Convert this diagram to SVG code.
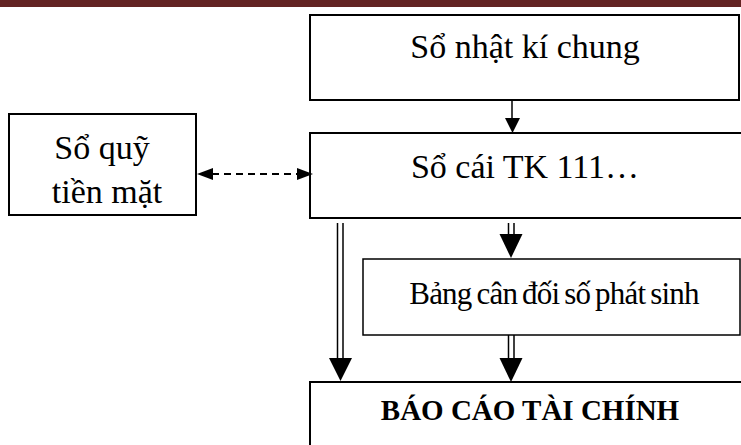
<svg xmlns="http://www.w3.org/2000/svg" width="741" height="445" viewBox="0 0 741 445">
  <style>
    .box { fill: #fff; stroke: #000; stroke-width: 2; }
    .thin { stroke-width: 1.5; }
    .lbl { font-family: "Liberation Serif", "Times New Roman", serif; font-size: 34px; fill: #000; text-anchor: middle; }
    .tight { font-size: 31px; letter-spacing: -0.8px; word-spacing: -2px; }
    .bold { font-weight: bold; font-size: 29px; }
    .line { stroke: #000; stroke-width: 1.5; fill: none; }
    .dash { stroke: #000; stroke-width: 2; stroke-dasharray: 7 5; fill: none; }
    .head { fill: #000; }
  </style>

  <!-- page header rule -->
  <rect x="0" y="0" width="741" height="7" fill="#632423"/>

  <g id="so-nhat-ki-chung">
    <rect class="box" x="310" y="15" width="429" height="85"/>
    <text class="lbl" x="525" y="58">Sổ nhật kí chung</text>
  </g>

  <g id="so-cai">
    <rect class="box" x="310" y="133" width="440" height="85"/>
    <text class="lbl" x="525" y="178">Sổ cái TK 111…</text>
  </g>

  <g id="so-quy">
    <rect class="box" x="9" y="114" width="187" height="101"/>
    <text class="lbl" x="102" y="159">Sổ quỹ</text>
    <text class="lbl" x="107" y="203">tiền mặt</text>
  </g>

  <g id="bang-can-doi">
    <rect class="box thin" x="363" y="259" width="377" height="76"/>
    <text class="lbl tight" x="554" y="304">Bảng cân đối số phát sinh</text>
  </g>

  <g id="bao-cao-tai-chinh">
    <rect class="box" x="310" y="382" width="450" height="80"/>
    <text class="lbl bold" x="530" y="420">BÁO CÁO TÀI CHÍNH</text>
  </g>

  <g id="connectors">
    <!-- journal to ledger -->
    <line class="line" x1="512" y1="100" x2="512" y2="119"/>
    <polygon class="head" points="505,118 520,118 512.5,133"/>

    <!-- cash book <-> ledger -->
    <line class="dash" x1="212" y1="174" x2="298" y2="174"/>
    <polygon class="head" points="197,174 213,168 213,180"/>
    <polygon class="head" points="313,174 297,168 297,180"/>

    <!-- ledger to financial statements -->
    <line class="line" x1="337.5" y1="223" x2="337.5" y2="359"/>
    <line class="line" x1="343" y1="223" x2="343" y2="359"/>
    <polygon class="head" points="329,358 352,358 340.5,381"/>

    <!-- ledger to trial balance -->
    <line class="line" x1="508.5" y1="223" x2="508.5" y2="235"/>
    <line class="line" x1="514" y1="223" x2="514" y2="235"/>
    <polygon class="head" points="499.5,234 522.5,234 511,258"/>

    <!-- trial balance to financial statements -->
    <line class="line" x1="508.5" y1="335" x2="508.5" y2="359"/>
    <line class="line" x1="514" y1="335" x2="514" y2="359"/>
    <polygon class="head" points="499.5,358 522.5,358 511,382"/>
  </g>
</svg>
